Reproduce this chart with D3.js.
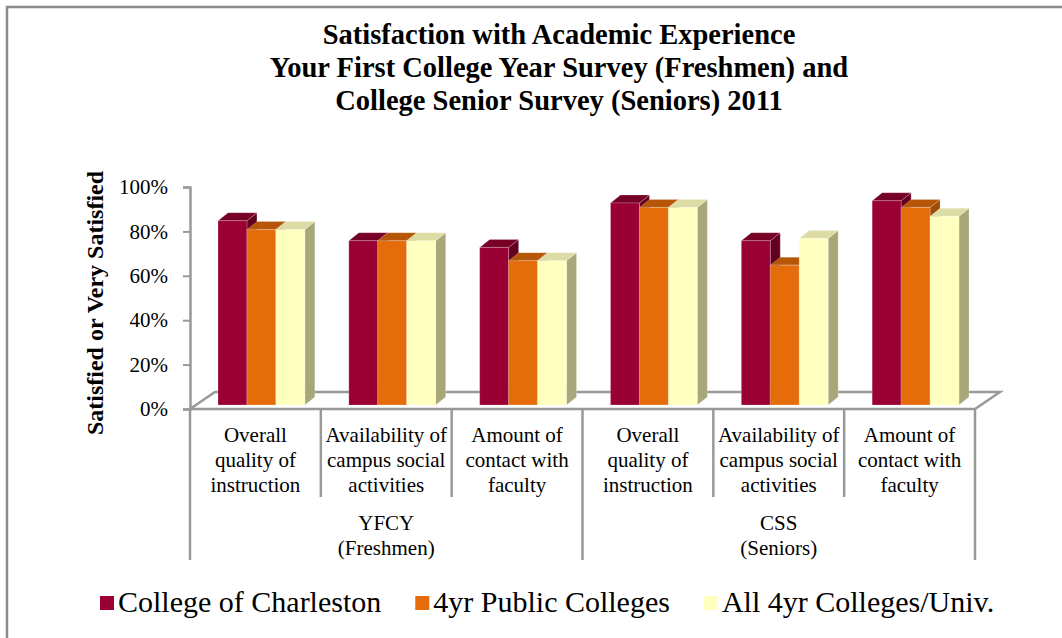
<!DOCTYPE html>
<html lang="en">
<head>
  <meta charset="UTF-8">
  <title>Satisfaction with Academic Experience</title>
  <style>
    body { margin: 0; background: #fff; }
    text { font-family: "Liberation Serif", "Times New Roman", serif; fill: #000; }
  </style>
</head>
<body>
  <script src="https://d3js.org/d3.v7.min.js"></script>
  <script>
    // Chart data
    let categories = [
      ["Overall", "quality of", "instruction"],
      ["Availability of", "campus social", "activities"],
      ["Amount of", "contact with", "faculty"],
      ["Overall", "quality of", "instruction"],
      ["Availability of", "campus social", "activities"],
      ["Amount of", "contact with", "faculty"]
    ];
    let groups = [["YFCY", "(Freshmen)"], ["CSS", "(Seniors)"]];
    let seriesNames = ["College of Charleston", "4yr Public Colleges", "All 4yr Colleges/Univ."];
    let charleston = [83, 74, 71, 91, 74, 92];
    let publicColleges = [79, 74, 65, 89, 63, 89];
    let allColleges = [79, 74, 65, 89, 75, 85];
    let yTicks = [0, 20, 40, 60, 80, 100];
    let titleLines = [
      "Satisfaction with Academic Experience",
      "Your First College Year Survey (Freshmen) and",
      "College Senior Survey (Seniors) 2011"
    ];

    let serif = '"Liberation Serif", "Times New Roman", serif';

    // Colours: front, top, side
    let colors = [
      { front: "#9a0033", top: "#760026", side: "#62001f" },
      { front: "#e46c0a", top: "#b65608", side: "#a04c07" },
      { front: "#ffffbf", top: "#dcdca4", side: "#a7a77a" }
    ];

    let svgWidth = 1062;
    let svgHeight = 638;

    let svg = d3.select("body")
      .append("svg")
      .attr("width", svgWidth)
      .attr("height", svgHeight);

    // outer frame (right and bottom edges fall off the picture)
    svg.append("rect")
      .attr("x", 7).attr("y", 7)
      .attr("width", 1100).attr("height", 700)
      .attr("fill", "none")
      .attr("stroke", "#8c8c8c")
      .attr("stroke-width", 2.5);

    // title
    svg.append("text")
      .attr("x", 559)
      .attr("y", 44)
      .attr("text-anchor", "middle")
      .style("font-size", "28.5px")
      .style("font-weight", "bold")
      .selectAll("tspan")
      .data(titleLines)
      .enter()
      .append("tspan")
      .attr("x", 559)
      .attr("dy", (d, i) => i === 0 ? 0 : 33)
      .text(d => d);

    // plot geometry
    let plotLeft = 190, plotRight = 975;
    let floorY = 409, topY = 187;
    let floorDepth = { dx: 25, dy: -17 };
    let barShift = { dx: 6, dy: -4 };
    let barDepth = { dx: 10, dy: -8 };

    let x = d3.scaleBand()
      .domain(d3.range(categories.length))
      .range([plotLeft, plotRight]);

    let xInner = d3.scaleBand()
      .domain(d3.range(seriesNames.length))
      .range([22, x.bandwidth() - 22]);

    let y = d3.scaleLinear()
      .domain([0, 100])
      .range([floorY, topY]);

    // floor
    svg.append("path")
      .attr("d", `M${plotLeft},${floorY} L${plotRight},${floorY} L${plotRight + floorDepth.dx},${floorY + floorDepth.dy} L${plotLeft + floorDepth.dx},${floorY + floorDepth.dy} Z`)
      .attr("fill", "#fff")
      .attr("stroke", "#999")
      .attr("stroke-width", 2.5)
      .attr("stroke-linejoin", "miter");

    // y axis
    let yAxis = d3.axisLeft(y)
      .tickValues(yTicks)
      .tickSize(7)
      .tickPadding(15)
      .tickFormat(d => d + "%");

    let yAxisG = svg.append("g")
      .attr("transform", `translate(${plotLeft}, 0)`)
      .call(yAxis)
      .attr("font-family", serif);
    yAxisG.select(".domain").attr("stroke", "#999").attr("stroke-width", 2.5);
    yAxisG.selectAll(".tick line").attr("stroke", "#999").attr("stroke-width", 2);
    yAxisG.selectAll(".tick text")
      .style("font-size", "21px")
      .style("font-family", serif)
      .attr("fill", "#000");

    // y axis title
    svg.append("text")
      .attr("transform", "translate(103, 303) rotate(-90)")
      .attr("text-anchor", "middle")
      .style("font-size", "24px")
      .style("font-weight", "bold")
      .text("Satisfied or Very Satisfied");

    // bars, drawn left to right so that front faces hide neighbour sides
    let seriesValues = [charleston, publicColleges, allColleges];
    let bars = [];
    categories.forEach((c, ci) => {
      seriesValues.forEach((vals, si) => {
        bars.push({ ci: ci, si: si, value: vals[ci] });
      });
    });

    let barG = svg.append("g");
    let barW = xInner.bandwidth();

    let bar = barG.selectAll(".bar")
      .data(bars)
      .enter()
      .append("g")
      .attr("class", "bar");

    function face(d, kind) {
      let x0 = x(d.ci) + xInner(d.si) + barShift.dx;
      let x1 = x0 + barW;
      let yb = y(0) + barShift.dy;
      let yt = y(d.value) + barShift.dy;
      let ddx = barDepth.dx, ddy = barDepth.dy;
      if (kind === "side") {
        return `M${x1},${yt} L${x1 + ddx},${yt + ddy} L${x1 + ddx},${yb + ddy} L${x1},${yb} Z`;
      }
      if (kind === "top") {
        return `M${x0},${yt} L${x0 + ddx},${yt + ddy} L${x1 + ddx},${yt + ddy} L${x1},${yt} Z`;
      }
      return `M${x0},${yt} L${x1},${yt} L${x1},${yb} L${x0},${yb} Z`;
    }

    ["side", "top", "front"].forEach(kind => {
      bar.append("path")
        .attr("d", d => face(d, kind))
        .attr("fill", d => colors[d.si][kind])
        .attr("stroke", "rgba(255,255,255,0.35)")
        .attr("stroke-width", 0.6);
    });

    // category dividers
    let dividerIdx = d3.range(categories.length + 1);
    svg.append("g")
      .selectAll("line")
      .data(dividerIdx)
      .enter()
      .append("line")
      .attr("x1", i => i < categories.length ? x(i) : plotRight)
      .attr("x2", i => i < categories.length ? x(i) : plotRight)
      .attr("y1", floorY)
      .attr("y2", i => (i % 3 === 0) ? 560 : 497)
      .attr("stroke", "#999")
      .attr("stroke-width", 2.5);

    // category labels
    let catLabel = svg.append("g")
      .selectAll("text")
      .data(categories)
      .enter()
      .append("text")
      .attr("text-anchor", "middle")
      .style("font-size", "21px");

    catLabel.selectAll("tspan")
      .data((d, i) => d.map(line => ({ line: line, i: i })))
      .enter()
      .append("tspan")
      .attr("x", d => x(d.i) + x.bandwidth() / 2)
      .attr("y", (d, j) => 442 + j * 25)
      .text(d => d.line);

    // group labels
    let groupLabel = svg.append("g")
      .selectAll("text")
      .data(groups)
      .enter()
      .append("text")
      .attr("text-anchor", "middle")
      .style("font-size", "21px");

    groupLabel.selectAll("tspan")
      .data((d, g) => d.map(line => ({ line: line, g: g })))
      .enter()
      .append("tspan")
      .attr("x", d => (x(d.g * 3) + (d.g * 3 + 3 < categories.length ? x(d.g * 3 + 3) : plotRight)) / 2)
      .attr("y", (d, j) => 530 + j * 25)
      .text(d => d.line);

    // legend
    let legendG = svg.append("g");
    let lx = 100;
    seriesNames.forEach((name, i) => {
      legendG.append("rect")
        .attr("x", lx)
        .attr("y", 596)
        .attr("width", 14)
        .attr("height", 14)
        .attr("fill", colors[i].front);
      let t = legendG.append("text")
        .attr("x", lx + 18)
        .attr("y", 612)
        .style("font-size", "30px")
        .text(name);
      lx += 18 + t.node().getComputedTextLength() + 34;
    });
  </script>
</body>
</html>
